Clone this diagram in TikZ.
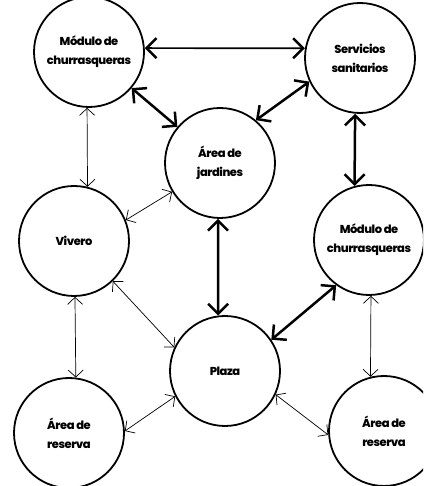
\documentclass[tikz,border=0pt]{standalone}
\usepackage{fontspec}
\setmainfont{Poppins}[UprightFont=* ExtraBold, LetterSpace=-4]
\usetikzlibrary{arrows.meta}
\tikzset{
  place/.style={circle, draw, line width=1.8pt, minimum size=110pt, inner sep=0pt,
    align=center, font=\fontsize{11.5}{19}\selectfont},
  heavy/.style={line width=2.5pt, {Straight Barb[length=10pt,width=20pt]}-{Straight Barb[length=10pt,width=20pt]}},
  heavythin/.style={line width=1.7pt, {Straight Barb[length=10pt,width=20pt,line width=2.5pt]}-{Straight Barb[length=10pt,width=20pt,line width=2.5pt]}},
  light/.style={line width=0.7pt, {Straight Barb[length=7pt,width=15pt]}-{Straight Barb[length=7pt,width=15pt]}}
}
\begin{document}
\begin{tikzpicture}[x=1pt,y=1pt]
\useasboundingbox (0,0) rectangle (423,486);
\clip (0,0) rectangle (423,486);
\node[place] (m1) at (89,434) {Módulo de\\churrasqueras};
\node[place] (s)  at (360,428) {Servicios\\sanitarios};
\node[place] (j)  at (220,323) {Área de\\jardines};
\node[place] (v)  at (74,245) {Vivero};
\node[place] (m2) at (369,246) {Módulo de\\churrasqueras};
\node[place] (p)  at (225,115) {Plaza};
\node[place] (a1) at (69,53) {Área de\\reserva};
\node[place] (a2) at (384,55) {Área de\\reserva};
% heavy links
\draw[heavythin] (m1.4) -- (s.170);
\draw[heavy] (m1) -- (j);
\draw[heavy] (s.205) -- (j.50);
\draw[heavy] (s.265) -- (m2.105);
\draw[heavy] (j.268) -- (p.97);
\draw[heavy] (m2.234) -- (p.34);
% light links
\draw[light] (m1.268) -- (v.76);
\draw[light] (v.22) -- (j.211);
\draw[light] (v.271) -- (a1.83);
\draw[light] (v.314) -- (p.155);
\draw[light] (a1.2) -- (p.207);
\draw[light] (p.335) -- (a2.184);
\draw[light] (m2.272) -- (a2.104);
\end{tikzpicture}
\end{document}
